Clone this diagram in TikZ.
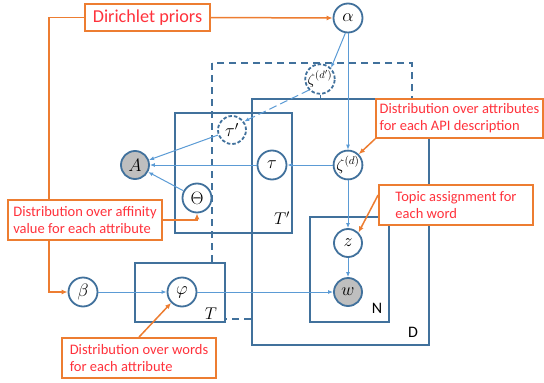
\RequirePackage{fix-cm}
\documentclass[tikz,border=0pt]{standalone}
\usepackage{fontspec}
\setsansfont{Carlito}
\usetikzlibrary{arrows.meta}
\definecolor{plateblue}{RGB}{65,113,156}
\definecolor{arrowblue}{RGB}{91,155,213}
\definecolor{noteorange}{RGB}{237,125,49}
\definecolor{notered}{RGB}{255,50,60}
\definecolor{obsgray}{RGB}{191,191,191}
\tikzset{
    var/.style={circle, draw=plateblue, line width=1.8pt, fill=white, minimum size=29pt, inner sep=0pt, font=\fontsize{18}{20}\selectfont},
    obs/.style={var, fill=obsgray},
    ghost/.style={var, dash pattern=on 3.5pt off 2pt},
    plate/.style={draw=plateblue, line width=1.3pt},
    dplate/.style={plate, dash pattern=on 7pt off 5pt},
    platelabel/.style={font=\sffamily\fontsize{16}{18}\selectfont},
    note/.style={draw=noteorange, line width=1.8pt, fill=white, text=notered, align=left, inner sep=0pt, minimum width=154pt, minimum height=40pt, font=\sffamily\fontsize{14.5}{17}\selectfont},
    arrow/.style={-{Latex[length=5pt, width=4pt]}, draw=arrowblue, line width=1pt},
    notearrow/.style={-{Latex[length=6pt, width=5pt]}, draw=noteorange, line width=1.5pt}
}

\begin{document}
\begin{tikzpicture}[x=1pt, y=-1pt]
    \useasboundingbox (0,0) rectangle (544,383);

    % Plates
    \draw [dplate] (212,63) rectangle (412,319);
    \draw [plate, fill=white] (135,263) rectangle (225,322);
    \draw [plate, fill=white] (252,99) rectangle (429,345);
    \draw [plate] (175,113) rectangle (292,233);
    \draw [plate] (310,217) rectangle (389,322);
    \coordinate (dtop) at (320,99);
    \node (lblTp) [font=\fontsize{17}{19}\selectfont] at (282,218) {$T'$};
    \node (lblT) [font=\fontsize{17}{19}\selectfont] at (211,314) {$T$};
    \node (lblN) [platelabel] at (377,308) {N};
    \node (lblD) [platelabel] at (413,332) {D};

    % Nodes
    \node (alpha) [var] at (348,18) {$\alpha$};
    \node (zetap) [ghost, minimum size=27pt, font=\fontsize{15}{17}\selectfont] at (320,79) {$\zeta^{(d')}$};
    \node (taup) [ghost, minimum size=28pt] at (232,130) {$\tau'$};
    \node (A) [obs, minimum size=28pt] at (135,165) {$A$};
    \node (tau) [var] at (272,165) {$\tau$};
    \node (zeta) [var, minimum size=28pt, font=\fontsize{16}{18}\selectfont] at (348,165) {$\zeta^{(d)}$};
    \node (theta) [var] at (197,198) {$\Theta$};
    \node (z) [var, minimum size=28pt] at (348,243) {$z$};
    \node (w) [obs, minimum size=28pt] at (348,292) {$w$};
    \node (beta) [var] at (83,292) {$\beta$};
    \node (phi) [var] at (182,292) {$\varphi$};

    % Flows
    \draw [arrow] (alpha.-100) -- (zetap.45);
    \draw [arrow] (alpha) -- (zeta);
    \draw [arrow, dash pattern=on 8pt off 4pt] (zetap.225) -- (taup.35);
    \draw [plate, line width=1pt] (zetap) -- (dtop);
    \draw [arrow] (taup) -- (A);
    \draw [arrow] (tau) -- (A);
    \draw [arrow] (theta) -- (A);
    \draw [arrow] (zeta) -- (tau);
    \draw [arrow] (zeta) -- (z);
    \draw [arrow] (z) -- (w);
    \draw [arrow] (beta) -- (phi);
    \draw [arrow] (phi) -- (w);

    % Notes
    \node (dirnote) [note, font=\sffamily\fontsize{18.2}{20}\selectfont, minimum width=125pt, minimum height=27pt] at (147.5,17.5) {Dirichlet priors};
    \draw [notearrow] (dirnote.east) -- (alpha.west);
    \draw [notearrow] (dirnote.west) -- ++(-35,0) |- (beta.west);
    \node (affnote) [note] at (85,220) {Distribution over affinity\\value for each attribute};
    \draw [notearrow] (affnote.east) -| (theta.south);
    \node (apinote) [note, minimum width=167pt, minimum height=39pt] at (459.5,118.5) {Distribution over attributes\\for each API description};
    \draw [notearrow] (apinote.south west) -- (zeta.north east);
    \node (topicnote) [note] at (456,205) {Topic assignment for\\each word};
    \draw [notearrow] ([yshift=10pt]topicnote.west) -- (z.north east);
    \node (wordnote) [note] at (139,358) {Distribution over words\\for each attribute};
    \draw [notearrow] (wordnote.north) -- (phi.south west);
\end{tikzpicture}
\end{document}
